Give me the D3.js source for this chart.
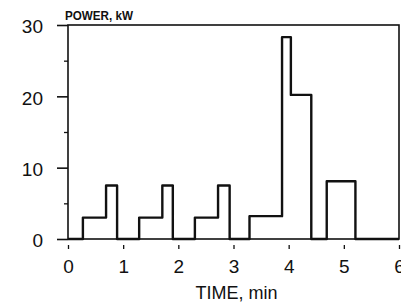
<!DOCTYPE html>
<html lang="en">
  <head>
    <meta charset="UTF-8" />
    <title>Power vs time</title>
    <script src="https://d3js.org/d3.v7.min.js"></script>
    <style>
      body { margin: 0; background: #fff; }
      svg text { font-family: "Liberation Sans", Arial, sans-serif; fill: #111; }
      .tick-label { font-size: 19px; }
    </style>
  </head>
  <body>
    <svg id="chart" width="401" height="304"></svg>
    <script>
      // step profile: power (kW) holds from each time until the next one
      const stepTimes = [0, 0.27, 0.69, 0.89, 1.29, 1.71, 1.9, 2.3, 2.72, 2.93, 3.29, 3.88, 4.04, 4.41, 4.69, 5.21, 6];
      const stepPower = [0, 3, 7.5, 0, 3, 7.5, 0, 3, 7.5, 0, 3.2, 28.3, 20.2, 0, 8.1, 0, 0];
      const xTicks = [0, 1, 2, 3, 4, 5, 6];
      const yTicks = [0, 10, 20, 30];
      const yMinorTicks = [5, 15, 25];

      const width = 401;
      const height = 304;
      const margin = { top: 25, right: 2, bottom: 65, left: 68 };

      const svg = d3.select("#chart");

      const x = d3.scaleLinear().domain([0, 6]).range([margin.left, width - margin.right]);
      const y = d3.scaleLinear().domain([0, 30]).range([height - margin.bottom, margin.top]);

      // frame
      svg.append("rect")
        .attr("x", x(0))
        .attr("y", y(30))
        .attr("width", x(6) - x(0))
        .attr("height", y(0) - y(30))
        .attr("fill", "none")
        .attr("stroke", "#111")
        .attr("stroke-width", 1.6);

      // y axis, major ticks with labels
      const yAxis = svg.append("g")
        .attr("transform", `translate(${x(0)},0)`)
        .call(d3.axisLeft(y).tickValues(yTicks).tickSize(11).tickPadding(14).tickFormat(d3.format("d")));
      yAxis.select(".domain").remove();
      yAxis.selectAll("line").attr("stroke", "#111").attr("stroke-width", 1.6);
      yAxis.selectAll("text")
        .attr("class", "tick-label")
        .attr("dy", "0.42em");

      // y axis minor ticks
      const yMinor = svg.append("g")
        .attr("transform", `translate(${x(0)},0)`)
        .call(d3.axisLeft(y).tickValues(yMinorTicks).tickSize(4).tickFormat(""));
      yMinor.select(".domain").remove();
      yMinor.selectAll("line").attr("stroke", "#111").attr("stroke-width", 1.3);

      // x axis: short detached ticks below the baseline
      const xAxis = svg.append("g")
        .attr("transform", `translate(0,${y(0)})`)
        .call(d3.axisBottom(x).tickValues(xTicks).tickSize(10).tickPadding(10).tickFormat(d3.format("d")));
      xAxis.select(".domain").remove();
      xAxis.selectAll("line")
        .attr("y1", 6)
        .attr("y2", 10)
        .attr("stroke", "#111")
        .attr("stroke-width", 1.3);
      xAxis.selectAll("text")
        .attr("class", "tick-label")
        .attr("dy", "0.72em");

      // power profile
      const line = d3.line()
        .x((d) => x(d[0]))
        .y((d) => y(d[1]))
        .curve(d3.curveStepAfter);

      svg.append("path")
        .datum(d3.zip(stepTimes, stepPower))
        .attr("d", line)
        .attr("fill", "none")
        .attr("stroke", "#111")
        .attr("stroke-width", 2.4)
        .attr("stroke-linejoin", "round");

      // labels
      svg.append("text")
        .attr("x", 65)
        .attr("y", 20)
        .attr("font-size", 12)
        .attr("font-weight", "bold")
        .attr("textLength", 68)
        .attr("lengthAdjust", "spacingAndGlyphs")
        .text("POWER, kW");

      svg.append("text")
        .attr("x", (x(0) + x(6)) / 2 + 3)
        .attr("y", 299)
        .attr("text-anchor", "middle")
        .attr("font-size", 18)
        .text("TIME, min");
    </script>
  </body>
</html>
